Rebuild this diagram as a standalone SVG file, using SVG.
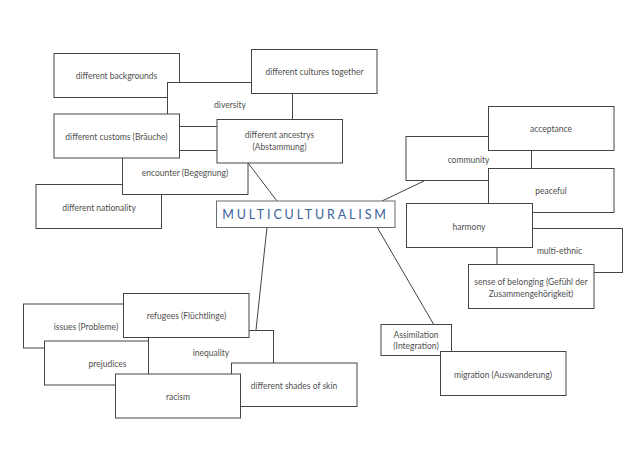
<svg xmlns="http://www.w3.org/2000/svg" width="640" height="452" viewBox="0 0 640 452">
<style>
rect{fill:#fff;stroke:#444;stroke-width:1}
text{font-family:Lato,"Open Sans",sans-serif;font-size:8.5px;fill:#505050;text-anchor:middle}
#connectors line{stroke:#444;stroke-width:1;fill:none}
#main rect{stroke:#666b73}
#main text{font-size:12.5px;letter-spacing:2.85px;fill:#3a6299}
</style>
<rect x="0" y="0" width="640" height="452" style="stroke:none"/>
<g id="connectors">
<line x1="248" y1="163" x2="277" y2="201"/>
<line x1="382" y1="201" x2="424" y2="181"/>
<line x1="377" y1="227" x2="434" y2="325"/>
<line x1="267" y1="227" x2="256" y2="330"/>
</g>
<g id="backgrounds"><rect x="54" y="53.5" width="125.5" height="44"/><text x="116.500" y="79">different backgrounds</text></g>
<g id="diversity"><rect x="167.500" y="82.500" width="125" height="44"/><text x="230" y="108">diversity</text></g>
<g id="cultures"><rect x="251.500" y="49.500" width="125.500" height="44"/><text x="314.500" y="75">different cultures together</text></g>
<g id="nationality"><rect x="36" y="184.500" width="125.500" height="44"/><text x="99" y="210.500">different nationality</text></g>
<g id="encounter"><rect x="122.500" y="150.500" width="125.500" height="44"/><text x="185" y="176">encounter (Begegnung)</text></g>
<g id="customs"><rect x="54" y="114" width="125.500" height="44"/><text x="116.500" y="139.500">different customs (Bräuche)</text></g>
<g id="ancestrys"><rect x="217" y="119.500" width="125.500" height="43.500"/><text x="279.500" y="138">different ancestrys</text><text x="279.500" y="150">(Abstammung)</text></g>
<g id="main"><rect x="216.500" y="201" width="178.500" height="26.500"/><text x="305.500" y="218.500">MULTICULTURALISM</text></g>
<g id="community"><rect x="406" y="136.500" width="125.500" height="44"/><text x="468.500" y="162.500">community</text></g>
<g id="acceptance"><rect x="488.500" y="106.500" width="125.500" height="44"/><text x="551" y="132">acceptance</text></g>
<g id="peaceful"><rect x="488.500" y="168.500" width="125.500" height="44"/><text x="551" y="194">peaceful</text></g>
<g id="multi-ethnic"><rect x="497" y="228.500" width="125.500" height="44"/><text x="559.500" y="254">multi-ethnic</text></g>
<g id="harmony"><rect x="406.500" y="203.500" width="126" height="44"/><text x="469" y="229.500">harmony</text></g>
<g id="belonging"><rect x="468.500" y="264.500" width="125.500" height="44"/><text x="531" y="285">sense of belonging (Gefühl der</text><text x="531" y="296.500">Zusammengehörigkeit)</text></g>
<g id="assimilation"><rect x="381" y="324.500" width="70.500" height="31"/><text x="416" y="337.500">Assimilation</text><text x="416" y="349">(Integration)</text></g>
<g id="migration"><rect x="440.500" y="351.500" width="125.500" height="44"/><text x="503" y="377.500">migration (Auswanderung)</text></g>
<g id="issues"><rect x="23.500" y="304" width="125.500" height="44"/><text x="86" y="329.500">issues (Probleme)</text></g>
<g id="prejudices"><rect x="44.500" y="341" width="125.500" height="44"/><text x="107.500" y="366.500">prejudices</text></g>
<g id="inequality"><rect x="148.500" y="330.500" width="125" height="44"/><text x="211" y="356">inequality</text></g>
<g id="refugees"><rect x="123.500" y="293.500" width="125.500" height="44"/><text x="186.500" y="319">refugees (Flüchtlinge)</text></g>
<g id="shades"><rect x="231.500" y="363" width="125.500" height="43.500"/><text x="294" y="388.500">different shades of skin</text></g>
<g id="racism"><rect x="115.500" y="374" width="125" height="44"/><text x="178" y="399.500">racism</text></g>
</svg>
